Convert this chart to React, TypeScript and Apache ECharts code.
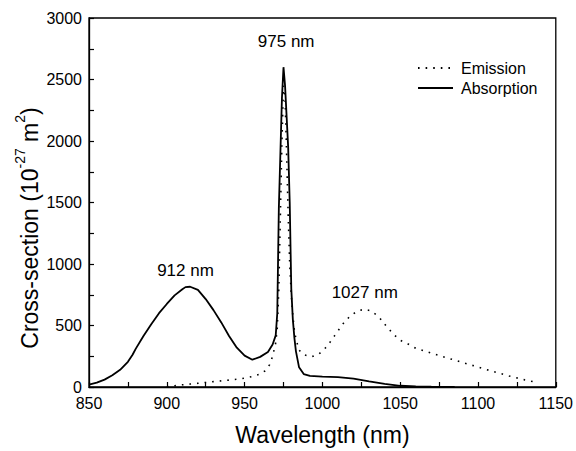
import React, { useEffect, useRef } from "react";
import * as echarts from "echarts";

const absX = [850, 855, 860, 865, 870, 875, 878, 880, 885, 890, 895, 900, 905, 910, 912, 915, 920, 925, 930, 935, 940, 945, 950, 955, 960, 965, 968, 970, 971, 972, 973, 974, 975, 976, 977, 978, 979, 980, 981, 982, 983, 985, 988, 992, 1000, 1010, 1020, 1030, 1040, 1050, 1060, 1070, 1085];
const absY = [20, 35, 60, 95, 140, 205, 262, 310, 415, 510, 600, 675, 745, 795, 812, 815, 790, 715, 625, 525, 415, 320, 255, 222, 245, 285, 345, 420, 600, 1450, 1900, 2350, 2600, 2450, 2200, 1950, 1500, 800, 550, 400, 290, 160, 105, 90, 85, 80, 68, 45, 25, 10, 4, 2, 0];

const emiX = [900, 905, 910, 915, 920, 925, 930, 935, 940, 945, 950, 955, 960, 963, 966, 968, 970, 971, 972, 973, 974, 975, 976, 977, 978, 979, 980, 981, 982, 983, 985, 988, 993, 998, 1003, 1008, 1013, 1018, 1023, 1027, 1031, 1036, 1041, 1046, 1050, 1055, 1060, 1070, 1080, 1090, 1100, 1110, 1120, 1130, 1137];
const emiY = [2, 10, 18, 24, 30, 37, 44, 50, 56, 63, 72, 85, 105, 130, 180, 250, 360, 480, 800, 1400, 2000, 2450, 2350, 1900, 1400, 1000, 750, 580, 460, 390, 300, 262, 245, 270, 330, 420, 510, 580, 620, 632, 620, 575, 495, 425, 380, 350, 315, 275, 237, 200, 162, 125, 90, 58, 40];

const peakLabels = [
  { text: "975 nm", x: 976.7, y: 2809 },
  { text: "912 nm", x: 912, y: 947 },
  { text: "1027 nm", x: 1027.2, y: 772 },
];

const FONT = "Liberation Sans, Arial, sans-serif";

export default function App() {
  const ref = useRef<HTMLDivElement>(null);
  useEffect(() => {
    if (!ref.current) return;
    const chart = echarts.init(ref.current, undefined, { renderer: "svg" });
    const axisCommon = {
      axisLine: { show: true, lineStyle: { color: "#000", width: 1.3 } },
      axisTick: { show: true, inside: true, length: 5, lineStyle: { color: "#000", width: 1.2 } },
      minorTick: { show: true, splitNumber: 2, length: 5, lineStyle: { color: "#000", width: 1.2 } },
      splitLine: { show: false },
      axisLabel: { color: "#000", fontSize: 16, fontFamily: FONT, formatter: (v: number) => String(v) },
    };
    chart.setOption({
      animation: false,
      backgroundColor: "#fff",
      grid: { left: 89, right: 18, top: 18, bottom: 56, show: true, borderColor: "#000", borderWidth: 1.3 },
      xAxis: {
        type: "value",
        min: 850,
        max: 1150,
        interval: 50,
        ...axisCommon,
        axisLabel: { ...axisCommon.axisLabel, margin: 8 },
        name: "Wavelength (nm)",
        nameLocation: "middle",
        nameGap: 36,
        nameTextStyle: { color: "#000", fontSize: 23, fontFamily: FONT },
      },
      yAxis: {
        type: "value",
        min: 0,
        max: 3000,
        interval: 500,
        ...axisCommon,
        axisLabel: { ...axisCommon.axisLabel, margin: 7 },
      },
      legend: {
        orient: "vertical",
        left: 412,
        top: 55,
        itemWidth: 35,
        itemHeight: 14,
        itemGap: 4,
        itemStyle: { opacity: 0 },
        textStyle: { color: "#000", fontSize: 16, fontFamily: FONT, padding: [0, 0, 0, 3] },
        data: ["Emission", "Absorption"],
      },
      graphic: [
        {
          type: "text",
          x: 27,
          y: 228,
          rotation: Math.PI / 2,
          style: {
            text: "{a|Cross-section (10}{s|-27}{a| m}{s|2}{a|)}",
            align: "center",
            verticalAlign: "middle",
            fill: "#000",
            rich: {
              a: { fontSize: 23, fontFamily: FONT, fill: "#000", lineHeight: 28, verticalAlign: "bottom" },
              s: { fontSize: 14, fontFamily: FONT, fill: "#000", lineHeight: 28, verticalAlign: "top", padding: [0, 0, 10, 0] },
            },
          },
        },
      ],
      series: [
        {
          name: "Emission",
          type: "line",
          data: emiX.map((x, i) => [x, emiY[i]]),
          showSymbol: false,
          symbol: "none",
          smooth: false,
          lineStyle: { color: "#000", width: 1.6, type: [1.6, 6] },
          itemStyle: { color: "#000" },
          z: 2,
        },
        {
          name: "Absorption",
          type: "line",
          data: absX.map((x, i) => [x, absY[i]]),
          showSymbol: false,
          symbol: "none",
          smooth: false,
          lineStyle: { color: "#000", width: 1.8 },
          itemStyle: { color: "#000" },
          z: 3,
          markPoint: {
            symbol: "circle",
            symbolSize: 0,
            silent: true,
            label: {
              show: true,
              color: "#000",
              fontSize: 17,
              fontFamily: FONT,
              formatter: (p: any) => p.name,
              position: "inside",
            },
            data: peakLabels.map((l) => ({ name: l.text, coord: [l.x, l.y] })),
          },
        },
      ],
    });
    return () => chart.dispose();
  }, []);
  return <div ref={ref} style={{ position: "fixed", left: 0, top: 0, width: 576, height: 451 }} />;
}
